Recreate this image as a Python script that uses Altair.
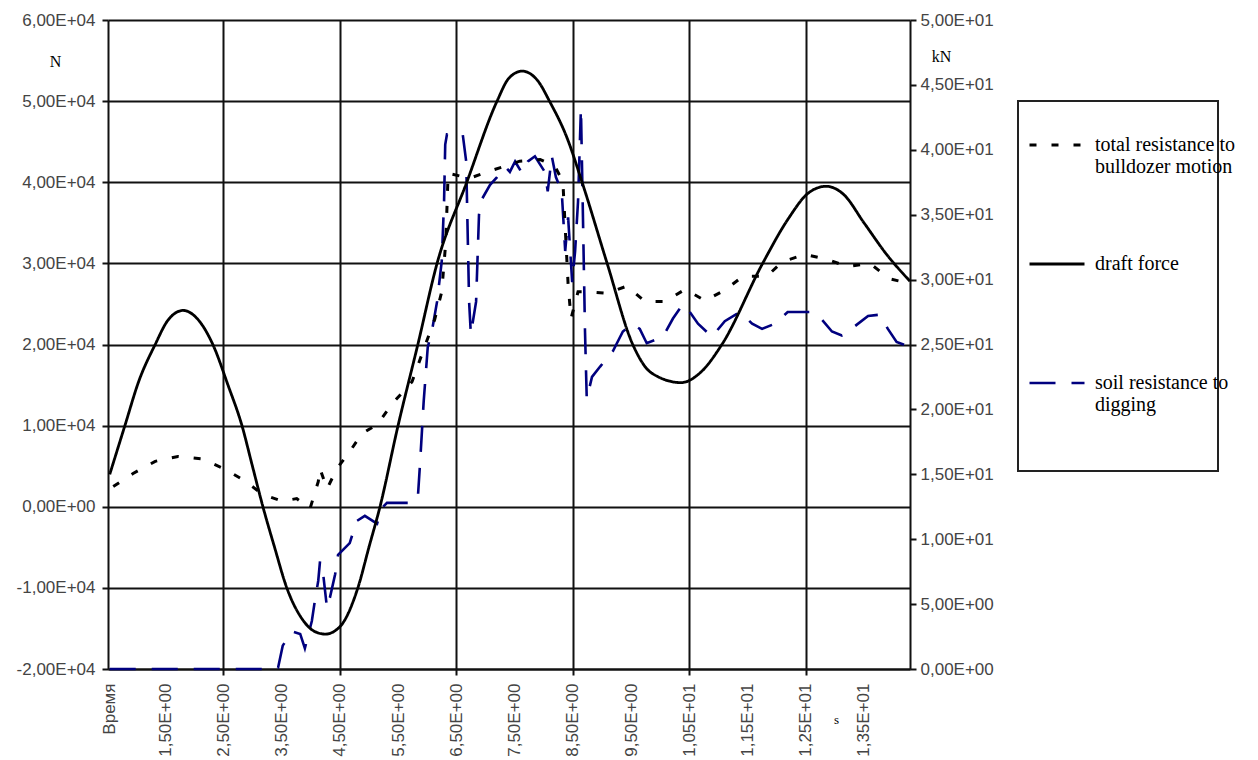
import json
import altair as alt
import pandas as pd

# ---------------- data ----------------
SERIES = ["total resistance to bulldozer motion", "draft force", "soil resistance to digging"]

# draft force, N (left axis)
T_DRAFT = [0.55, 0.81, 1.05, 1.33, 1.55, 1.81, 2.05, 2.32, 2.58, 2.82, 3.0, 3.18, 3.38, 3.59,
           3.85, 4.05, 4.25, 4.5, 4.81, 5.0, 5.19, 5.5, 5.84, 6.17, 6.68, 7.2, 7.4, 7.63, 7.9,
           8.1, 8.4, 8.66, 9.09, 9.53, 9.85, 10.36, 10.7, 11.06, 11.76, 12.2, 12.55, 12.85,
           13.15, 13.5, 13.9, 14.29]
DRAFT_N = [4000, 10000, 15500, 20000, 23000, 24200, 23200, 20000, 15000, 10000, 5000, 0, -5000,
           -10000, -13800, -15300, -15700, -14800, -10000, -5000, 0, 10000, 20000, 30000, 40000,
           50000, 52800, 53700, 52500, 50000, 45500, 40000, 30000, 20000, 16500, 15300, 16600,
           20000, 30000, 35500, 38700, 39500, 38500, 35000, 31000, 27800]

# total resistance to bulldozer motion, N (left axis)
T_TOTAL = [0.61, 0.95, 1.33, 1.72, 2.13, 2.51, 2.87, 3.18, 3.51, 3.76, 3.99, 4.13, 4.16, 4.28,
           4.45, 4.67, 4.88, 5.15, 5.40, 5.74, 5.96, 6.13, 6.25, 6.32, 6.36, 6.73, 7.08, 7.34,
           7.59, 7.94, 8.19, 8.33, 8.42, 8.47, 8.59, 8.74, 9.09, 9.43, 9.74, 10.08, 10.43,
           10.77, 11.11, 11.42, 11.83, 12.10, 12.48, 12.86, 13.22, 13.60, 13.94, 14.29]
TOTAL_N = [2500, 4100, 5600, 6200, 5900, 4700, 3200, 1500, 700, 1000, -200, 3100, 4700, 2200,
           4700, 6800, 9000, 10200, 12700, 15400, 19800, 23100, 26500, 32700, 41100, 40500,
           41400, 42000, 42600, 42800, 42000, 40100, 27400, 23200, 26500, 26500, 26300, 27200,
           25300, 25300, 26800, 25400, 26700, 28400, 28400, 30200, 31100, 30500, 29600, 30000,
           28100, 27500]

# soil resistance to digging, kN (right axis)
T_SOIL = [0.55, 3.30, 3.44, 3.52, 3.68, 3.82, 3.90, 4.02, 4.07, 4.13, 4.16, 4.21, 4.28, 4.33,
          4.42, 4.47, 4.67, 4.79, 4.93, 5.14, 5.22, 5.31, 5.74, 5.84, 5.88, 5.94, 6.01, 6.08,
          6.17, 6.25, 6.29, 6.31, 6.34, 6.61, 6.67, 6.72, 6.75, 6.84, 6.89, 6.94, 7.08, 7.20,
          7.34, 7.42, 7.51, 7.63, 7.73, 7.85, 8.02, 8.07, 8.14, 8.21, 8.31, 8.37, 8.42, 8.49,
          8.54, 8.59, 8.64, 8.67, 8.71, 8.74, 8.83, 8.97, 9.19, 9.36, 9.52, 9.65, 9.77, 10.05,
          10.22, 10.39, 10.51, 10.65, 10.89, 11.11, 11.37, 11.58, 11.75, 11.97, 12.19, 12.62,
          12.78, 12.95, 13.12, 13.34, 13.57, 13.77, 13.91, 14.06, 14.29]
SOIL_KN = [0, 0, 0.1, 1.8, 2.9, 2.7, 1.6, 3.7, 5.2, 6.8, 8.3, 7.5, 4.7, 5.5, 7.3, 8.8, 9.7,
           11.4, 11.8, 11.2, 12.4, 12.8, 12.8, 13.2, 16.0, 20.6, 24.8, 26.0, 28.3, 31.4, 36.0,
           40.4, 41.2, 41.2, 39.1, 28.3, 25.8, 28.3, 35.0, 36.2, 37.3, 37.9, 38.7, 38.3, 39.1,
           38.2, 39.1, 39.5, 38.3, 36.8, 39.5, 37.9, 36.8, 32.2, 34.8, 29.8, 32.2, 36.0, 43.2,
           36.0, 26.0, 20.8, 22.5, 23.3, 24.5, 26.0, 26.6, 26.2, 25.1, 25.6, 27.0, 28.1, 27.5,
           26.6, 25.6, 26.8, 27.5, 26.6, 26.2, 26.6, 27.5, 27.5, 26.9, 26.0, 25.7, 26.4, 27.2,
           27.3, 26.2, 25.2, 24.8]

# axis ticks / labels
X_TICKS = [0.55, 1.5, 2.5, 3.5, 4.5, 5.5, 6.5, 7.5, 8.5, 9.5, 10.5, 11.5, 12.5, 13.5]
X_LABELS = ["Время", "1,50E+00", "2,50E+00", "3,50E+00", "4,50E+00", "5,50E+00", "6,50E+00",
            "7,50E+00", "8,50E+00", "9,50E+00", "1,05E+01", "1,15E+01", "1,25E+01", "1,35E+01"]
LEFT_TICKS = [-20000, -10000, 0, 10000, 20000, 30000, 40000, 50000, 60000]
LEFT_LABELS = ["-2,00E+04", "-1,00E+04", "0,00E+00", "1,00E+04", "2,00E+04", "3,00E+04",
               "4,00E+04", "5,00E+04", "6,00E+04"]
RIGHT_TICKS = [0, 5, 10, 15, 20, 25, 30, 35, 40, 45, 50]
RIGHT_LABELS = ["0,00E+00", "5,00E+00", "1,00E+01", "1,50E+01", "2,00E+01", "2,50E+01",
                "3,00E+01", "3,50E+01", "4,00E+01", "4,50E+01", "5,00E+01"]

# ---------------- styling ----------------
COLORS = ["#000000", "#000000", "#00007f"]
DASHES = [[7, 15], [1, 0], [26, 16]]
WIDTHS = [3, 2.6, 2.6]
SANS = "Liberation Sans"
SERIF = "Liberation Serif"
LABEL_COLOR = "#444444"
TICK_FS = 17


def lookup_expr(labels, ticks):
    return (json.dumps(labels, ensure_ascii=False) + "[indexof(" + json.dumps(ticks)
            + ", datum.value)]")


LEGEND_EXPR = ("datum.label == 'total resistance to bulldozer motion' ? "
               "['total resistance to', 'bulldozer motion'] : "
               "datum.label == 'soil resistance to digging' ? "
               "['soil resistance to', 'digging'] : [datum.label, ' ']")

total_df = pd.DataFrame({"t": T_TOTAL, "v": TOTAL_N, "series": SERIES[0]})
draft_df = pd.DataFrame({"t": T_DRAFT, "v": DRAFT_N, "series": SERIES[1]})
soil_df = pd.DataFrame({"t": T_SOIL, "v": SOIL_KN, "series": SERIES[2]})

grid_test = "datum.value > 2 && abs((datum.value - 0.5) % 2) < 0.01"

x_axis = alt.Axis(
    values=X_TICKS, labelExpr=lookup_expr(X_LABELS, X_TICKS), labelAngle=270,
    labelFont=SANS, labelFontSize=TICK_FS, labelColor=LABEL_COLOR, labelPadding=8,
    labelOverlap=False, labelFlush=False, labelBound=False,
    grid=True, gridColor="#111111", gridWidth=2,
    gridOpacity={"condition": {"test": grid_test, "value": 1}, "value": 0},
    ticks=True, tickSize=6, tickColor="#111111", tickWidth=2,
    tickOpacity={"condition": {"test": grid_test, "value": 1}, "value": 0},
    domainColor="#111111", domainWidth=2,
    title="s", titleFont=SERIF, titleFontSize=13, titleFontWeight="normal",
    titleColor="#000000", titleAngle=0, titleX=728, titleY=50, titleAlign="center",
    titleBaseline="middle",
)

x_enc = alt.X("t:Q", scale=alt.Scale(domain=[0.52, 14.29], nice=False, zero=False), axis=x_axis)

legend = alt.Legend(title=None, labelExpr=LEGEND_EXPR, labelFont=SERIF, labelFontSize=20,
                    labelColor="#000000", labelOffset=9, labelLimit=400)
color_enc = alt.Color("series:N", scale=alt.Scale(domain=SERIES, range=COLORS), legend=legend)
dash_enc = alt.StrokeDash("series:N", scale=alt.Scale(domain=SERIES, range=DASHES),
                          legend=legend)
width_enc = alt.StrokeWidth("series:N", scale=alt.Scale(domain=SERIES, range=WIDTHS),
                            legend=None)

left_axis = alt.Axis(
    values=LEFT_TICKS, labelExpr=lookup_expr(LEFT_LABELS, LEFT_TICKS),
    labelFont=SANS, labelFontSize=TICK_FS, labelColor=LABEL_COLOR, labelPadding=7,
    labelOverlap=False, grid=True, gridColor="#111111", gridWidth=2,
    tickSize=6, tickColor="#111111", tickWidth=2, domainColor="#111111", domainWidth=2,
    title="N", titleFont=SERIF, titleFontSize=16, titleFontWeight="normal",
    titleColor="#000000", titleAngle=0, titleX=-53, titleY=41, titleAlign="center",
    titleBaseline="middle", orient="left",
)

right_axis = alt.Axis(
    values=RIGHT_TICKS, labelExpr=lookup_expr(RIGHT_LABELS, RIGHT_TICKS),
    labelFont=SANS, labelFontSize=TICK_FS, labelColor=LABEL_COLOR, labelPadding=4,
    labelOverlap=False, grid=False,
    tickSize=6, tickColor="#111111", tickWidth=2, domainColor="#111111", domainWidth=2,
    title="kN", titleFont=SERIF, titleFontSize=16, titleFontWeight="normal",
    titleColor="#000000", titleAngle=0, titleX=31, titleY=36, titleAlign="center",
    titleBaseline="middle", orient="right",
)

y_left = alt.Y("v:Q", scale=alt.Scale(domain=[-20000, 60000], nice=False, zero=False),
               axis=left_axis)

total_layer = alt.Chart(total_df).mark_line(interpolate="linear", strokeCap="butt").encode(
    x=x_enc, y=y_left, color=color_enc, strokeDash=dash_enc, strokeWidth=width_enc,
    order=alt.Order("t:Q"),
)

draft_layer = alt.Chart(draft_df).mark_line(interpolate="monotone", strokeCap="butt").encode(
    x=x_enc, y=y_left, color=color_enc, strokeDash=dash_enc, strokeWidth=width_enc,
    order=alt.Order("t:Q"),
)

soil_layer = alt.Chart(soil_df).mark_line(interpolate="linear", strokeCap="butt").encode(
    x=x_enc,
    y=alt.Y("v:Q", scale=alt.Scale(domain=[0, 50], nice=False, zero=False), axis=right_axis),
    color=color_enc, strokeDash=dash_enc, strokeWidth=width_enc,
    order=alt.Order("t:Q"),
)

frame = alt.Chart(pd.DataFrame({"k": [0]})).mark_rect(
    fillOpacity=0, stroke="#222222", strokeWidth=2
).encode(
    x=alt.value(910), x2=alt.value(1110), y=alt.value(81), y2=alt.value(451)
)

left_group = alt.layer(total_layer, draft_layer)

chart = alt.layer(soil_layer, left_group, frame).resolve_scale(
    y="independent"
).properties(
    width=802, height=649,
    padding={"left": 8, "top": 3, "right": 0, "bottom": 0},
).configure_view(
    stroke=None
).configure_legend(
    orient="none", legendX=920, legendY=96, symbolType="stroke", symbolSize=3025,
    symbolStrokeWidth=3, labelFont=SERIF, labelFontSize=20, labelColor="#000000",
    labelOffset=9, rowPadding=58, labelLimit=400, padding=0,
)

chart.save("out.html", embed_options={"renderer": "svg", "actions": False})
